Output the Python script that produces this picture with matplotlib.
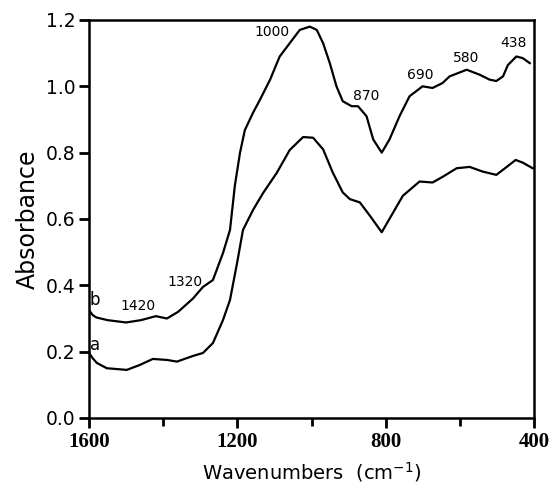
import matplotlib
matplotlib.use('Agg')
import matplotlib.pyplot as plt
import numpy as np

# spectra (wavenumber, absorbance)
wn_b = [1600, 1590, 1580, 1550, 1500, 1460, 1420, 1390, 1360, 1320, 1293, 1266, 1239,
        1220, 1207, 1193, 1180, 1158, 1139, 1112, 1086, 1059, 1032, 1005, 986, 969, 951,
        933, 916, 892, 875, 852, 834, 811, 790, 763, 736, 701, 674, 647, 628, 582, 547,
        520, 502, 484, 471, 448, 431, 412]
abs_b = [0.325, 0.31, 0.303, 0.295, 0.288, 0.295, 0.307, 0.30, 0.32, 0.36, 0.395, 0.416,
         0.497, 0.567, 0.70, 0.80, 0.868, 0.92, 0.96, 1.02, 1.09, 1.13, 1.17, 1.18, 1.17,
         1.13, 1.07, 1.00, 0.955, 0.94, 0.94, 0.91, 0.84, 0.80, 0.84, 0.91, 0.97, 1.00,
         0.995, 1.01, 1.03, 1.05, 1.035, 1.02, 1.016, 1.03, 1.064, 1.09, 1.085, 1.07]

wn_a = [1600, 1590, 1579, 1552, 1498, 1463, 1428, 1390, 1363, 1320, 1293, 1266, 1239,
        1220, 1201, 1185, 1158, 1131, 1094, 1059, 1023, 996, 969, 943, 916, 897, 870,
        843, 811, 781, 754, 709, 674, 647, 609, 574, 539, 502, 474, 450, 431, 404]
abs_a = [0.196, 0.18, 0.166, 0.15, 0.145, 0.16, 0.178, 0.175, 0.17, 0.187, 0.196, 0.226,
         0.295, 0.356, 0.467, 0.567, 0.627, 0.678, 0.739, 0.808, 0.847, 0.845, 0.81, 0.74,
         0.68, 0.66, 0.65, 0.61, 0.56, 0.618, 0.67, 0.713, 0.71, 0.727, 0.753, 0.757,
         0.743, 0.733, 0.757, 0.778, 0.77, 0.753]

peak_labels = ['1000', '870', '690', '580', '438', '1320', '1420']
peak_x = [1107, 854, 708, 584, 455, 1341, 1468]
peak_y = [1.164, 0.97, 1.034, 1.085, 1.13, 0.41, 0.337]

plt.rcParams['font.family'] = ['DejaVu Sans']

fig = plt.figure(figsize=(5.53, 4.91), dpi=100)
ax = fig.add_axes([0.161, 0.1487, 0.805, 0.8106])

ax.plot(wn_b, abs_b, color='black', lw=1.6)
ax.plot(wn_a, abs_a, color='black', lw=1.6)

for lab, x, y in zip(peak_labels, peak_x, peak_y):
    ax.text(x, y, lab, ha='center', va='center', fontsize=10, clip_on=False)
ax.text(1584, 0.356, 'b', ha='center', va='center', fontsize=12)
ax.text(1584, 0.22, 'a', ha='center', va='center', fontsize=12)

ax.set_xlim(1600, 400)
ax.set_ylim(0, 1.2)
ax.set_xticks([1600, 1200, 800, 400])
ax.set_xticks([1400, 1000, 600], minor=True)
ax.set_yticks([0.0, 0.2, 0.4, 0.6, 0.8, 1.0, 1.2])
ax.set_yticklabels(['0.0', '0.2', '0.4', '0.6', '0.8', '1.0', '1.2'], fontsize=13.5)
for t in ax.get_xticklabels():
    t.set_fontfamily('Liberation Serif')
    t.set_fontweight('bold')
    t.set_fontsize(15)
ax.tick_params(axis='both', which='major', direction='out', length=7, width=2, pad=3)
ax.tick_params(axis='x', which='minor', direction='out', length=6, width=2)
for s in ax.spines.values():
    s.set_linewidth(1.8)

ax.set_xlabel('Wavenumbers  (cm$^{-1}$)', fontsize=14, labelpad=6)
ax.set_ylabel('Absorbance', fontsize=17, labelpad=4)

fig.savefig('out.png', dpi=100)
